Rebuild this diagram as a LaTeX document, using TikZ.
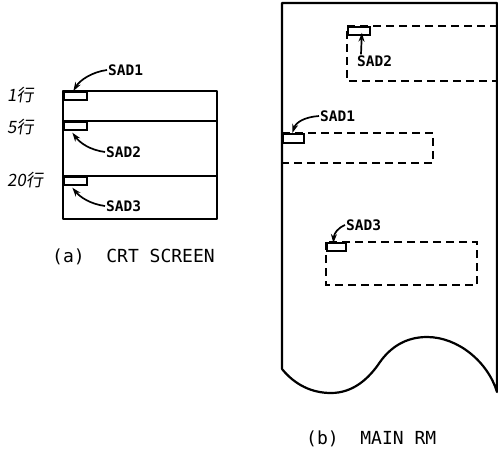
\documentclass[tikz,border=0pt]{standalone}
\usepackage{fontspec}
\usepackage{tikz}
\usetikzlibrary{arrows.meta}
\newfontfamily\jpfont{Noto Sans CJK JP}[FakeSlant=0.15]
\newfontfamily\sadfont{DejaVu Sans Mono Bold}
\newfontfamily\capfont{DejaVu Sans Mono}

\tikzset{
    frame/.style={line width=2.2pt, line join=round},
    dashbox/.style={line width=2.2pt, dash pattern=on 8pt off 5pt},
    slot/.style={draw, line width=1.7pt, minimum width=23pt, minimum height=8pt,
        inner sep=0pt, anchor=north west},
    sad/.style={font=\sadfont\fontsize{14.5}{15}\selectfont, inner sep=1pt},
    gyo/.style={font=\jpfont\fontsize{17}{18}\selectfont, anchor=west, inner sep=0pt},
    captext/.style={font=\capfont\fontsize{18}{19}\selectfont, inner sep=0pt},
    pointer/.style={-{Stealth[length=9pt, width=6pt]}, line width=1.7pt}
}

\begin{document}
\begin{tikzpicture}[x=1pt, y=-1pt, >=Stealth]

    \useasboundingbox (0,0) rectangle (498,449);

    % CRT
    \draw[frame] (63,91) rectangle (217,219);
    \draw[frame] (63,121) -- (217,121);
    \draw[frame] (63,176) -- (217,176);

    \node[slot] (c1) at (63,91) {};
    \node[slot] (c2) at (63,121) {};
    \node[slot] (c3) at (63,176) {};

    \node[gyo] (g1) at (7,95) {1行};
    \node[gyo] (g5) at (7,127) {5行};
    \node[gyo] (g20) at (7,180) {20行};

    \node[sad, anchor=west] (cs1) at (107,70) {SAD1};
    \node[sad, anchor=west] (cs2) at (105,152) {SAD2};
    \node[sad, anchor=west] (cs3) at (105,206) {SAD3};

    \draw[pointer] (cs1.west) .. controls (92,72) and (80,80) .. ([xshift=-2pt]c1.north);
    \draw[pointer] (cs2.west) .. controls (90,150) and (80,143) .. ([xshift=-3pt,yshift=-2pt]c2.south);
    \draw[pointer] (cs3.west) .. controls (90,204) and (80,197) .. ([xshift=-3pt,yshift=-2pt]c3.south);

    \node[captext, anchor=west] (capa) at (52,257) {(a)\ \ CRT SCREEN};

    % MAIN RM
    \draw[frame]
        (282,369) -- (282,3) -- (497,3) -- (497,392)
        .. controls (488,362) and (458,337) .. (427,337)
        .. controls (405,337) and (390,348) .. (380,362)
        .. controls (368,380) and (352,393) .. (331,393)
        .. controls (312,393) and (295,385) .. (282,369);

    \draw[dashbox] (498,26) -- (347,26) -- (347,81) -- (498,81);
    \draw[dashbox] (282,133) -- (433,133) -- (433,163) -- (282,163);
    \draw[dashbox] (326,242) rectangle (477,285);

    \node[slot, minimum width=22pt] (m2) at (347,26) {};
    \node[slot, minimum width=21pt, minimum height=9pt] (m1) at (282,133) {};
    \node[slot, minimum width=19pt] (m3) at (326,242) {};

    \node[sad, anchor=west] (ms2) at (356,61) {SAD2};
    \node[sad, anchor=west] (ms1) at (319,116) {SAD1};
    \node[sad, anchor=west] (ms3) at (345,225) {SAD3};

    \draw[pointer] ([xshift=5pt]ms2.north west) -- ([xshift=3pt,yshift=3pt]m2.south);
    \draw[pointer] (ms1.west) .. controls (305,117) and (296,122) .. ([xshift=-1pt]m1.north);
    \draw[pointer] (ms3.west) .. controls (338,228) and (334,233) .. ([xshift=-3pt,yshift=-1pt]m3.north);

    \node[captext, anchor=west] (capb) at (306,439) {(b)\ \ MAIN RM};

\end{tikzpicture}
\end{document}
